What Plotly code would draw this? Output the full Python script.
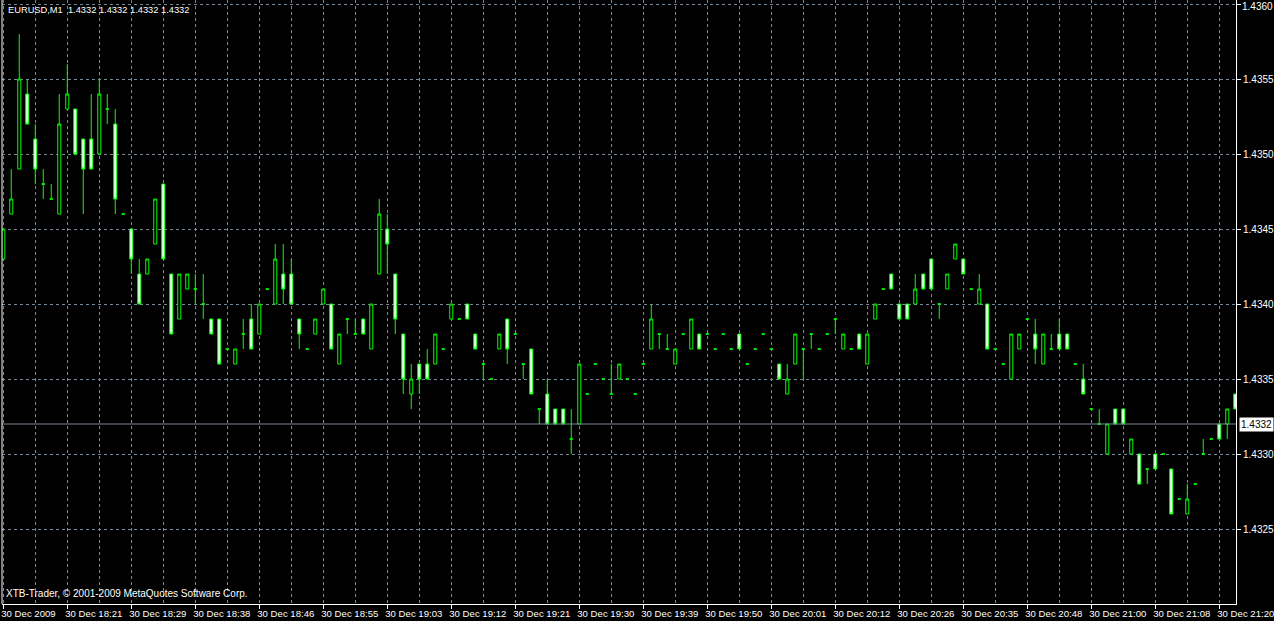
import plotly.graph_objects as go

# ---- data (EURUSD M1) ----
open_ = [1.4343,1.4346,1.4349,1.4354,1.4351,1.4348,1.4347,1.4346,1.4353,1.4353,
         1.4351,1.4351,1.4350,1.4353,1.4352,1.4346,1.4345,1.4342,1.4342,1.4344,
         1.4348,1.4342,1.4339,1.4341,1.4341,1.4340,1.4339,1.4339,1.4337,1.4336,
         1.4338,1.4339,1.4338,1.4341,1.4340,1.4342,1.4342,1.4339,1.4337,1.4338,
         1.4340,1.4340,1.4336,1.4339,1.4338,1.4339,1.4337,1.4342,1.4345,1.4342,
         1.4338,1.4334,1.4336,1.4336,1.4336,1.4337,1.4339,1.4339,1.4340,1.4338,
         1.4336,1.4335,1.4337,1.4339,1.4338,1.4336,1.4337,1.4333,1.4334,1.4333,
         1.4333,1.4331,1.4332,1.4334,1.4336,1.4335,1.4334,1.4335,1.4335,1.4334,
         1.4336,1.4337,1.4338,1.4337,1.4336,1.4338,1.4337,1.4338,1.4338,1.4337,
         1.4338,1.4337,1.4338,1.4336,1.4337,1.4338,1.4337,1.4336,1.4334,1.4336,
         1.4337,1.4338,1.4337,1.4338,1.4339,1.4337,1.4337,1.4338,1.4336,1.4339,
         1.4341,1.4342,1.4340,1.4340,1.4340,1.4342,1.4343,1.4340,1.4341,1.4343,
         1.4343,1.4341,1.4340,1.4340,1.4337,1.4336,1.4335,1.4337,1.4339,1.4338,
         1.4336,1.4337,1.4338,1.4338,1.4336,1.4335,1.4333,1.4332,1.4330,1.4333,
         1.4333,1.4330,1.4330,1.4329,1.4330,1.4330,1.4329,1.4327,1.4326,1.4328,
         1.4330,1.4331,1.4332,1.4332,1.4334]

high = [1.4345,1.4349,1.4358,1.4355,1.4352,1.4349,1.4348,1.4354,1.4356,1.4353,
        1.4351,1.4354,1.4355,1.4354,1.4353,1.4346,1.4345,1.4343,1.4343,1.4347,
        1.4348,1.4342,1.4342,1.4342,1.4342,1.4342,1.4339,1.4339,1.4337,1.4337,
        1.4339,1.4340,1.4340,1.4341,1.4344,1.4344,1.4343,1.4339,1.4337,1.4339,
        1.4341,1.4340,1.4338,1.4339,1.4339,1.4339,1.4340,1.4347,1.4346,1.4342,
        1.4338,1.4336,1.4336,1.4337,1.4338,1.4337,1.4340,1.4339,1.4340,1.4338,
        1.4336,1.4335,1.4338,1.4339,1.4338,1.4336,1.4337,1.4333,1.4335,1.4333,
        1.4333,1.4333,1.4336,1.4334,1.4336,1.4335,1.4336,1.4336,1.4335,1.4334,
        1.4336,1.4340,1.4338,1.4338,1.4337,1.4338,1.4339,1.4338,1.4338,1.4337,
        1.4338,1.4337,1.4338,1.4336,1.4337,1.4338,1.4337,1.4336,1.4336,1.4338,
        1.4337,1.4338,1.4337,1.4338,1.4339,1.4338,1.4337,1.4338,1.4338,1.4340,
        1.4341,1.4342,1.4340,1.4340,1.4342,1.4342,1.4343,1.4340,1.4342,1.4344,
        1.4343,1.4341,1.4342,1.4340,1.4337,1.4336,1.4338,1.4338,1.4339,1.4339,
        1.4338,1.4338,1.4339,1.4338,1.4336,1.4336,1.4333,1.4333,1.4332,1.4333,
        1.4333,1.4331,1.4330,1.4329,1.4330,1.4330,1.4329,1.4327,1.4328,1.4328,
        1.4331,1.4331,1.4332,1.4333,1.4334]

low = [1.4343,1.4346,1.4349,1.4352,1.4348,1.4347,1.4347,1.4346,1.4353,1.4350,
       1.4346,1.4349,1.4350,1.4352,1.4346,1.4346,1.4342,1.4340,1.4342,1.4344,
       1.4343,1.4338,1.4339,1.4341,1.4340,1.4339,1.4338,1.4336,1.4337,1.4336,
       1.4337,1.4337,1.4338,1.4341,1.4340,1.4340,1.4340,1.4337,1.4337,1.4338,
       1.4340,1.4337,1.4336,1.4338,1.4338,1.4338,1.4337,1.4342,1.4342,1.4338,
       1.4334,1.4333,1.4334,1.4335,1.4336,1.4337,1.4339,1.4339,1.4339,1.4337,
       1.4335,1.4335,1.4337,1.4336,1.4338,1.4335,1.4334,1.4332,1.4332,1.4332,
       1.4332,1.4330,1.4332,1.4334,1.4336,1.4335,1.4334,1.4335,1.4335,1.4334,
       1.4336,1.4337,1.4337,1.4337,1.4336,1.4338,1.4337,1.4337,1.4338,1.4337,
       1.4338,1.4337,1.4337,1.4336,1.4337,1.4338,1.4337,1.4335,1.4334,1.4336,
       1.4335,1.4337,1.4337,1.4338,1.4338,1.4337,1.4337,1.4337,1.4336,1.4339,
       1.4341,1.4341,1.4339,1.4339,1.4340,1.4341,1.4341,1.4339,1.4341,1.4343,
       1.4342,1.4341,1.4340,1.4337,1.4337,1.4336,1.4335,1.4337,1.4339,1.4336,
       1.4336,1.4337,1.4337,1.4337,1.4336,1.4334,1.4333,1.4332,1.4330,1.4332,
       1.4332,1.4330,1.4328,1.4328,1.4329,1.4330,1.4326,1.4327,1.4326,1.4328,
       1.4330,1.4331,1.4331,1.4331,1.4333]

close = [1.4345,1.4347,1.4355,1.4352,1.4349,1.4348,1.4347,1.4352,1.4354,1.4350,
         1.4349,1.4349,1.4354,1.4353,1.4347,1.4346,1.4343,1.4340,1.4343,1.4347,
         1.4343,1.4338,1.4342,1.4342,1.4341,1.4340,1.4338,1.4336,1.4337,1.4337,
         1.4338,1.4337,1.4340,1.4341,1.4343,1.4341,1.4340,1.4338,1.4337,1.4339,
         1.4341,1.4337,1.4338,1.4339,1.4338,1.4338,1.4340,1.4346,1.4344,1.4339,
         1.4335,1.4335,1.4335,1.4335,1.4338,1.4337,1.4340,1.4339,1.4339,1.4337,
         1.4336,1.4335,1.4338,1.4337,1.4338,1.4336,1.4334,1.4333,1.4332,1.4332,
         1.4332,1.4331,1.4336,1.4334,1.4336,1.4335,1.4334,1.4336,1.4335,1.4334,
         1.4336,1.4339,1.4338,1.4337,1.4337,1.4338,1.4339,1.4337,1.4338,1.4337,
         1.4338,1.4337,1.4337,1.4336,1.4337,1.4338,1.4337,1.4335,1.4335,1.4338,
         1.4337,1.4338,1.4337,1.4338,1.4339,1.4338,1.4337,1.4337,1.4338,1.4340,
         1.4341,1.4341,1.4339,1.4339,1.4341,1.4341,1.4341,1.4340,1.4342,1.4344,
         1.4342,1.4341,1.4341,1.4337,1.4337,1.4336,1.4338,1.4338,1.4339,1.4337,
         1.4338,1.4337,1.4337,1.4337,1.4336,1.4334,1.4333,1.4332,1.4332,1.4332,
         1.4332,1.4331,1.4328,1.4329,1.4329,1.4330,1.4326,1.4327,1.4327,1.4328,
         1.4330,1.4331,1.4331,1.4333,1.4333]

bar_index = list(range(len(open_)))

tick_bars = [0, 8, 16, 24, 32, 40, 48, 56, 64, 72, 80, 88, 96, 104, 112, 120, 128, 136, 144, 152]
tick_labels = ["30 Dec 2009", "30 Dec 18:21", "30 Dec 18:29", "30 Dec 18:38", "30 Dec 18:46",
               "30 Dec 18:55", "30 Dec 19:03", "30 Dec 19:12", "30 Dec 19:21", "30 Dec 19:30",
               "30 Dec 19:39", "30 Dec 19:50", "30 Dec 20:01", "30 Dec 20:12", "30 Dec 20:26",
               "30 Dec 20:35", "30 Dec 20:48", "30 Dec 21:00", "30 Dec 21:08", "30 Dec 21:20"]
grid_bars = [4, 12, 20, 28, 36, 44, 52, 60, 68, 76, 84, 92, 100, 108, 116, 124, 132, 140, 148]

price_ticks = [1.4325, 1.4330, 1.4335, 1.4340, 1.4345, 1.4350, 1.4355, 1.4360]
price_labels = ["1.4325", "1.4330", "1.4335", "1.4340", "1.4345", "1.4350", "1.4355", ""]
top_price_label = "1.4360"
bid_price = 1.4332
symbol_title = "EURUSD,M1\u00a0\u00a01.4332 1.4332 1.4332 1.4332"
copyright_text = "XTB-Trader, \u00a9 2001-2009 MetaQuotes Software Corp."

# ---- styles ----
LIME = "#00ff00"
GRID = "#778899"
FONT = "Liberation Sans"

fig = go.Figure(go.Candlestick(
    x=bar_index, open=open_, high=high, low=low, close=close,
    increasing=dict(line=dict(color=LIME, width=1), fillcolor="#000000"),
    decreasing=dict(line=dict(color=LIME, width=1), fillcolor="#ffffff"),
    whiskerwidth=0, hoverinfo="skip",
))

fig.update_layout(
    width=1274, height=621,
    paper_bgcolor="#000000", plot_bgcolor="#000000",
    margin=dict(l=2, r=38, t=0, b=17, pad=0, autoexpand=False),
    showlegend=False,
    boxgap=0.45,
    font=dict(family=FONT, size=10, color="#ffffff"),
    xaxis=dict(
        range=[-0.16, 154.09], rangeslider=dict(visible=False),
        automargin=False, tickangle=0,
        tickmode="array", tickvals=tick_bars, ticktext=tick_labels,
        ticks="outside", ticklen=4, tickcolor="#ffffff", tickwidth=1,
        ticklabelposition="outside right", ticklabeloverflow="allow",
        ticklabelshift=-3,
        tickfont=dict(family=FONT, size=9.6, color="#ffffff"),
        showgrid=True, gridcolor=GRID, griddash="3px,3px", gridwidth=1,
        minor=dict(tickmode="array", tickvals=grid_bars, showgrid=True,
                   gridcolor=GRID, griddash="3px,3px", gridwidth=1, ticks=""),
        showline=True, linecolor="#ffffff", linewidth=1, zeroline=False,
        fixedrange=True,
    ),
    yaxis=dict(
        side="right", range=[1.4320, 1.436027], automargin=False,
        tickmode="array", tickvals=price_ticks, ticktext=price_labels,
        ticks="outside", ticklen=4, tickcolor="#ffffff",
        ticklabeloverflow="allow",
        tickfont=dict(family=FONT, size=10, color="#ffffff"),
        showgrid=True, gridcolor=GRID, griddash="3px,3px", gridwidth=1,
        showline=True, linecolor="#ffffff", linewidth=1, zeroline=False,
        fixedrange=True,
    ),
    shapes=[
        dict(type="line", xref="paper", yref="y", x0=0, x1=1, y0=bid_price, y1=bid_price,
             line=dict(color=GRID, width=1)),
        dict(type="line", xref="paper", yref="paper", x0=0, x1=0, y0=0, y1=1,
             line=dict(color="#ffffff", width=1)),
    ],
    annotations=[
        dict(text=symbol_title, xref="paper", yref="paper", x=0, y=1,
             xanchor="left", yanchor="top", xshift=4, yshift=-3, showarrow=False,
             font=dict(family=FONT, size=9.3, color="#ffffff")),
        dict(text=copyright_text, xref="paper", yref="paper", x=0, y=0,
             xanchor="left", yanchor="bottom", xshift=2, yshift=3, showarrow=False,
             font=dict(family=FONT, size=10, color="#ffffff")),
        dict(text=top_price_label, xref="paper", yref="paper", x=1, y=1,
             xanchor="left", yanchor="top", xshift=4, yshift=1, showarrow=False,
             font=dict(family=FONT, size=10, color="#ffffff")),
        dict(text=f"{bid_price:.4f}", xref="paper", yref="y", x=1, y=bid_price,
             xanchor="left", yanchor="middle", xshift=3, showarrow=False,
             bgcolor="#ffffff", borderpad=1,
             font=dict(family=FONT, size=10, color="#000000")),
    ],
)

fig.write_html(
    "out.html",
    config={"displayModeBar": False, "staticPlot": True},
    post_script="document.body.style.margin='0px';document.body.style.padding='0px';"
                "document.body.style.background='#000000';",
)
